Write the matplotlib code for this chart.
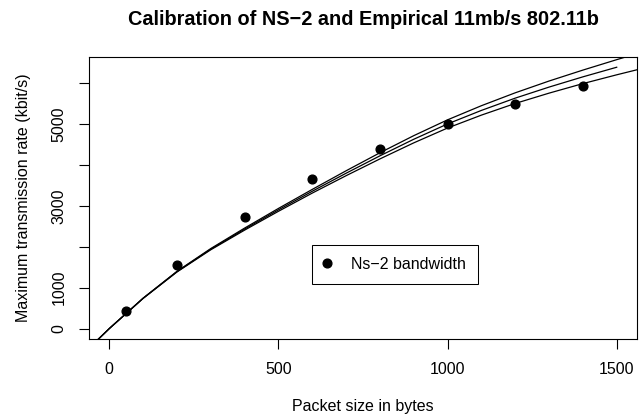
import matplotlib
matplotlib.use("Agg")
from matplotlib import pyplot as plt

plt.rcParams["font.family"] = ["Liberation Sans", "DejaVu Sans"]

# Measured ns-2 bandwidth per packet size
packet_sizes = [50, 200, 400, 600, 800, 1000, 1200, 1400]
ns2_bandwidth = [428, 1552, 2732, 3653, 4387, 4990, 5494, 5919]

# Calibration curves (kbit/s), sampled every 100 bytes
curve_x = [-100, 0, 100, 200, 300, 400, 500, 600, 700, 800, 900,
           1000, 1100, 1200, 1300, 1400, 1500, 1600]
curve_low = [-800, 0, 737, 1382, 1925, 2405, 2865, 3310, 3735, 4145, 4537,
             4900, 5215, 5500, 5752, 5985, 6200, 6405]
curve_mid = [-800, 0, 740, 1390, 1940, 2430, 2900, 3355, 3795, 4220, 4625,
             5000, 5330, 5630, 5900, 6150, 6385]
curve_high = [-800, 0, 743, 1398, 1955, 2455, 2935, 3400, 3855, 4295, 4713,
              5100, 5445, 5760, 6048, 6315, 6570, 6815]

x_ticks = [0, 500, 1000, 1500]
y_ticks = [0, 1000, 2000, 3000, 4000, 5000, 6000]
y_tick_labels = ["0", "1000", "", "3000", "", "5000", ""]

fig = plt.figure(figsize=(6.39, 4.18), dpi=100)
fig.subplots_adjust(left=89 / 639, right=637 / 639, bottom=1 - 339 / 418, top=1 - 57 / 418)
ax = fig.add_subplot(111)

ax.plot(packet_sizes, ns2_bandwidth, "o", color="black", markersize=6.3,
        label="Ns\u22122 bandwidth", zorder=3)
for ys in (curve_low, curve_mid, curve_high):
    ax.plot(curve_x[:len(ys)], ys, color="black", linewidth=0.9)

ax.set_xlim(-60, 1560)
ax.set_ylim(-255, 6635)
ax.set_xticks(x_ticks)
ax.set_xticklabels([str(t) for t in x_ticks])
ax.set_yticks(y_ticks)
ax.set_yticklabels(y_tick_labels, rotation=90, va="center")

ax.tick_params(axis="both", direction="out", length=7.2, width=0.8,
               labelsize=11.5, pad=9.0, colors="black")
for spine in ax.spines.values():
    spine.set_linewidth(0.8)
    spine.set_color("black")

ax.set_title("Calibration of NS\u22122 and Empirical 11mb/s 802.11b",
             fontsize=14.3, fontweight="bold", pad=23)
ax.set_xlabel("Packet size in bytes", fontsize=11.5)
ax.set_ylabel("Maximum transmission rate (kbit/s)", fontsize=11.5)
ax.xaxis.set_label_coords(0.5, -0.212)
ax.yaxis.set_label_coords(-0.106, 0.5)

leg = ax.legend(loc="upper left", bbox_to_anchor=(0.407, 0.333), fontsize=11.5,
                frameon=True, fancybox=False, framealpha=1, edgecolor="black",
                borderpad=0.75, handlelength=0.42, handletextpad=1.3,
                borderaxespad=0)
leg.get_frame().set_linewidth(0.75)

fig.savefig("out.png", dpi=100)
